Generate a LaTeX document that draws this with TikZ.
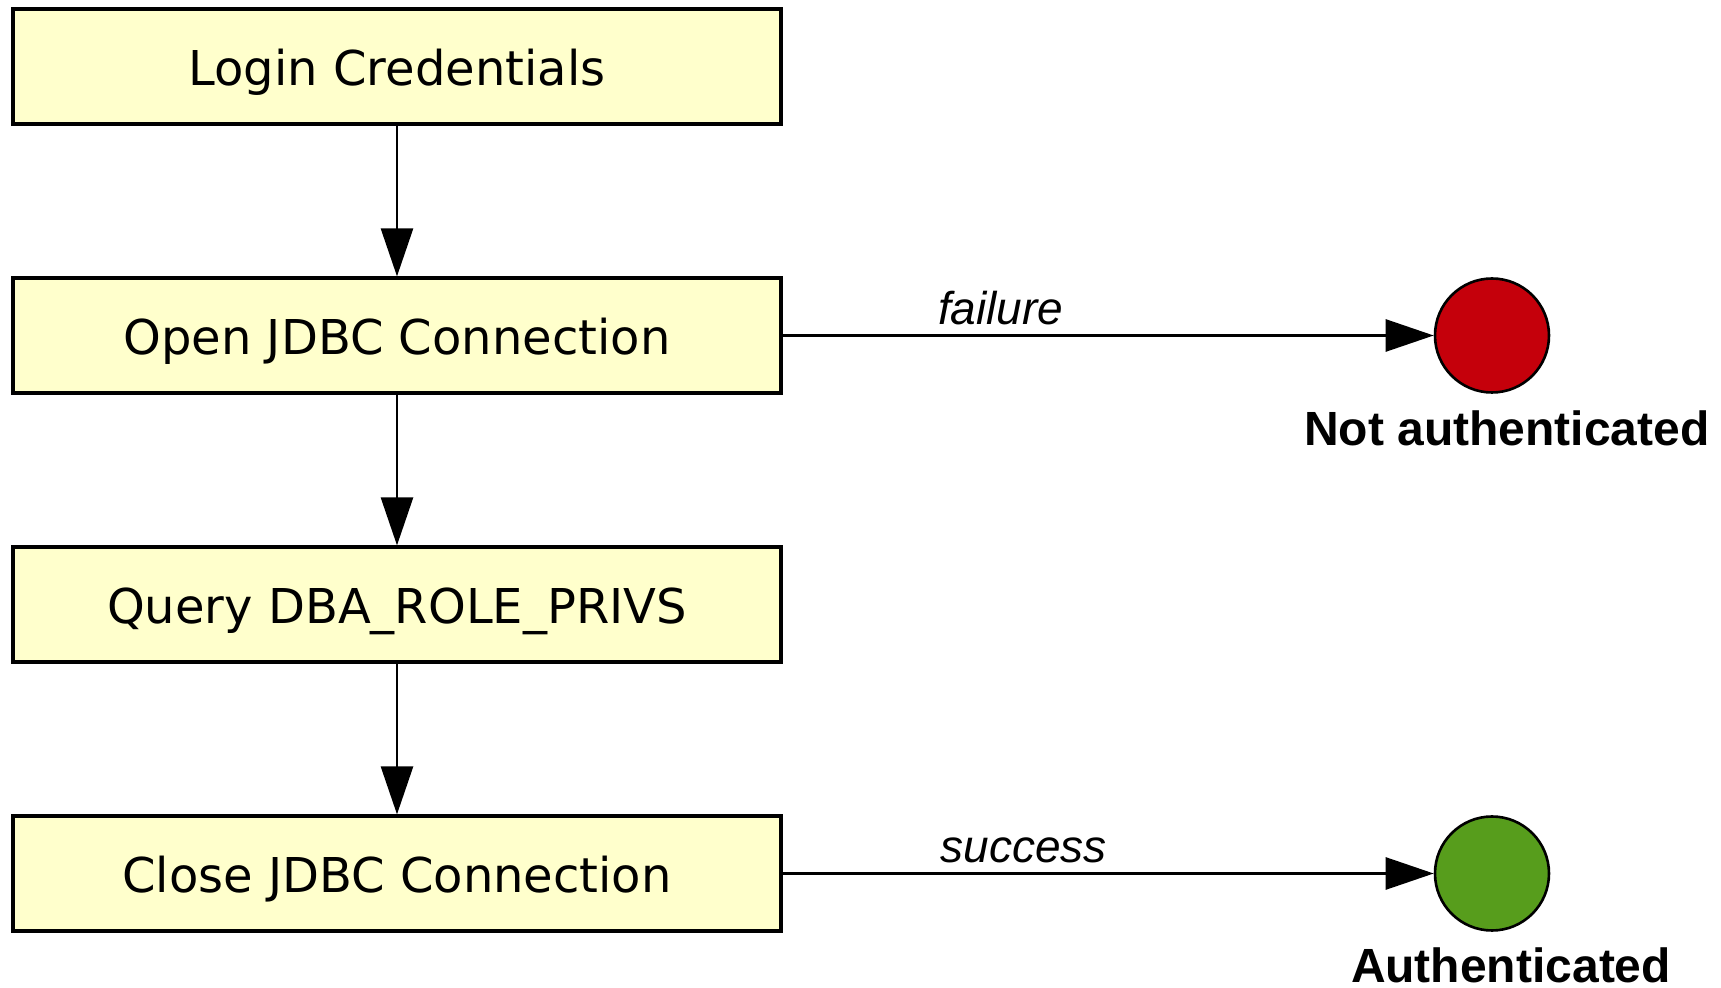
\documentclass[tikz,border=0pt]{standalone}
\usepackage{fontspec}
\setmainfont{DejaVu Sans}
\newfontfamily\lblfont{Liberation Sans}
\usetikzlibrary{arrows.meta}
\definecolor{boxfill}{HTML}{FFFFCC}
\definecolor{failred}{HTML}{C5000B}
\definecolor{okgreen}{HTML}{579D1C}
\tikzset{
  stepbox/.style={draw=black, line width=1.6pt, fill=boxfill, minimum width=384pt, minimum height=57.5pt, inner sep=0pt, text height=23pt, text depth=4pt, font=\fontsize{24}{28}\selectfont},
  flow/.style={line width=1.35pt, -{Triangle[length=24pt,width=16pt]}},
  endstate/.style={circle, draw=black, line width=1.3pt, minimum size=57pt, inner sep=0pt},
  statelbl/.style={font=\lblfont\bfseries\fontsize{24}{28}\selectfont},
  edgelbl/.style={font=\lblfont\itshape\fontsize{23}{28}\selectfont, anchor=base, inner sep=0pt, yshift=5.5pt}
}
\begin{document}
\begin{tikzpicture}[x=0.5pt,y=-0.5pt]
\useasboundingbox (0,0) rectangle (1721,988);
\node[stepbox] (login) at (397,66.5) {Login Credentials};
\node[stepbox] (open) at (397,335.5) {Open JDBC Connection};
\node[stepbox] (query) at (397,604.5) {Query DBA\_ROLE\_PRIVS};
\node[stepbox] (close) at (397,873.5) {Close JDBC Connection};
\node[endstate, fill=failred] (fail) at (1492,335.5) {};
\node[endstate, fill=okgreen] (ok) at (1492,873.5) {};
\node[statelbl] (failtxt) at (1507,428) {Not authenticated};
\node[statelbl] (oktxt) at (1511,965) {Authenticated};
\draw[flow] (login) -- (open);
\draw[flow] (open) -- (query);
\draw[flow] (query) -- (close);
\draw[flow] (open) -- node[edgelbl, pos=0.335] {failure} (fail);
\draw[flow] (close) -- node[edgelbl, pos=0.37] {success} (ok);
\end{tikzpicture}
\end{document}
